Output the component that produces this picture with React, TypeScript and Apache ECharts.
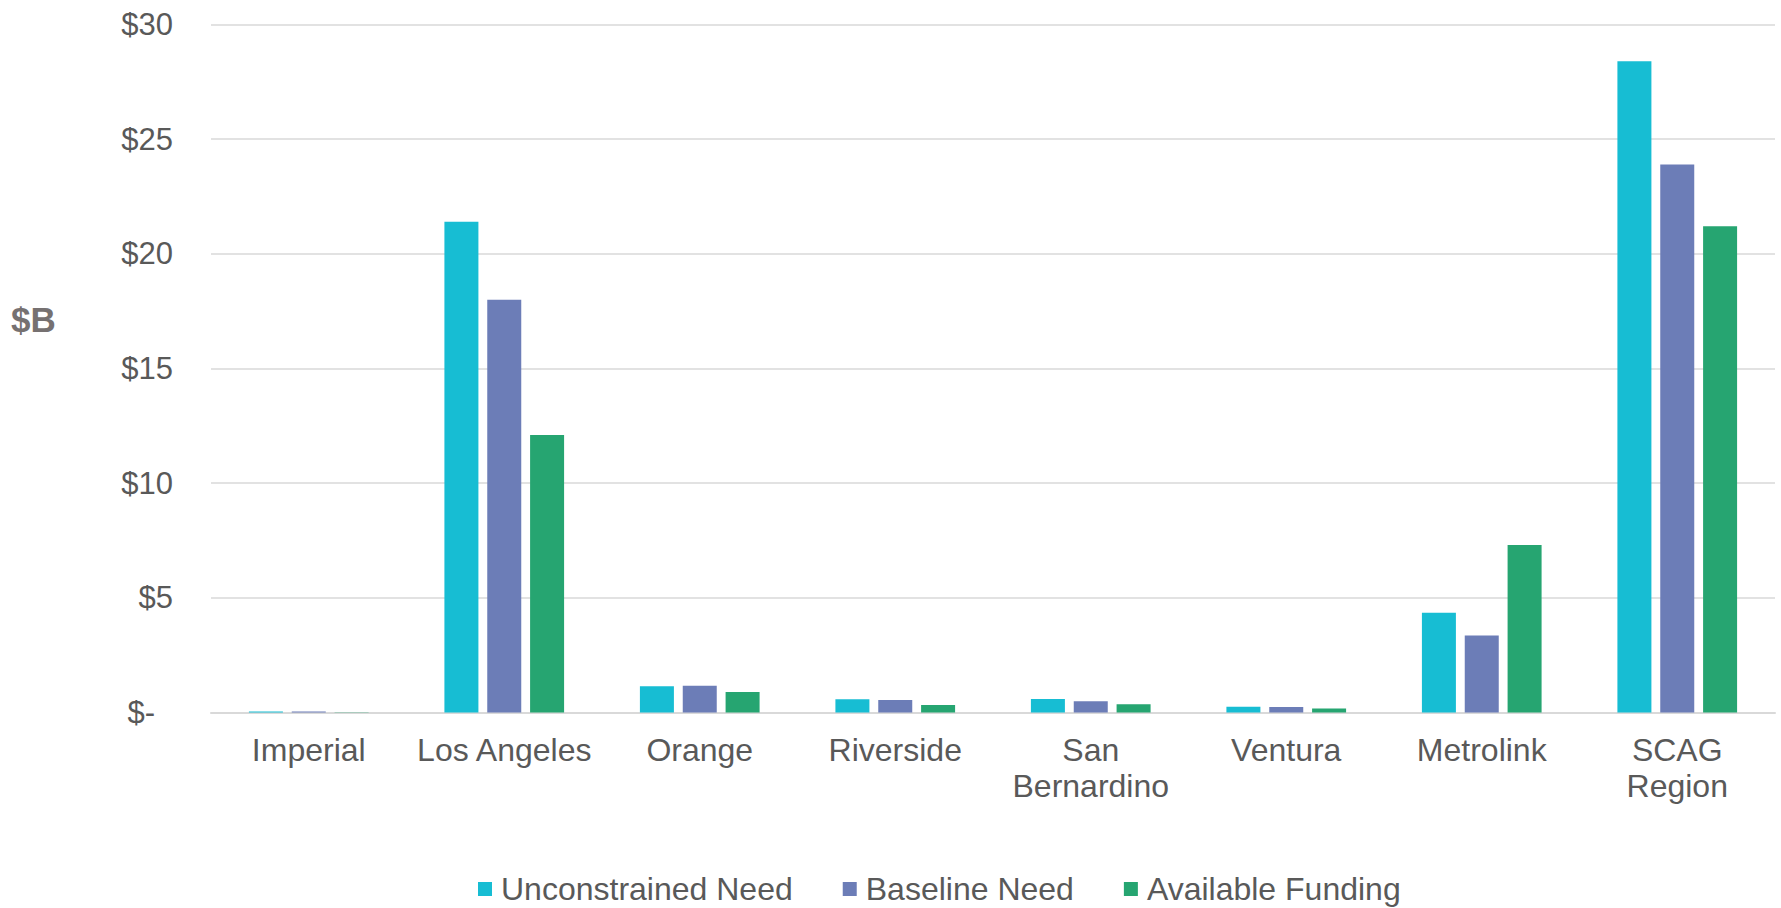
import React, { useEffect, useRef } from "react";
import * as echarts from "echarts";

// Transit O&M need vs. funding by county ($ billions)
const categories = [
  "Imperial",
  "Los Angeles",
  "Orange",
  "Riverside",
  "San\nBernardino",
  "Ventura",
  "Metrolink",
  "SCAG\nRegion",
];
const unconstrainedNeed = [0.04, 21.4, 1.15, 0.58, 0.59, 0.25, 4.35, 28.4];
const baselineNeed = [0.04, 18.0, 1.17, 0.55, 0.49, 0.24, 3.36, 23.9];
const availableFunding = [0.01, 12.1, 0.89, 0.33, 0.36, 0.17, 7.3, 21.2];

const seriesNames = ["Unconstrained Need", "Baseline Need", "Available Funding"];
const seriesColors = ["#17BDD3", "#6C7DB7", "#26A571"];

const FONT = "'Liberation Sans', Arial, Helvetica, sans-serif";
const TEXT = "#595959";
const GRID = "#D9D9D9";

export default function App() {
  const ref = useRef<HTMLDivElement>(null);

  useEffect(() => {
    if (!ref.current) return;
    const chart = echarts.init(ref.current, null, { renderer: "svg" });
    const values = [unconstrainedNeed, baselineNeed, availableFunding];

    chart.setOption({
      animation: false,
      backgroundColor: "#FFFFFF",
      textStyle: { fontFamily: FONT },
      grid: { left: 211, right: 6, top: 24.5, bottom: 195.5, containLabel: false },
      graphic: [
        {
          type: "text",
          left: 11,
          top: 302,
          style: {
            text: "$B",
            fontFamily: FONT,
            fontSize: 35,
            fontWeight: "bold",
            fill: "#767171",
          },
        },
      ],
      legend: {
        data: seriesNames,
        left: 478,
        top: 873,
        padding: 0,
        itemWidth: 14,
        itemHeight: 14,
        itemGap: 50,
        icon: "rect",
        textStyle: {
          fontFamily: FONT,
          fontSize: 32,
          color: TEXT,
          padding: [0, 0, 0, 4],
        },
      },
      xAxis: {
        type: "category",
        data: categories,
        axisLine: { show: true, lineStyle: { color: GRID, width: 2 } },
        axisTick: { show: false },
        axisLabel: {
          interval: 0,
          margin: 19,
          fontFamily: FONT,
          fontSize: 32,
          lineHeight: 36,
          color: TEXT,
          align: "center",
        },
        splitLine: { show: false },
      },
      yAxis: {
        type: "value",
        min: 0,
        max: 30,
        interval: 5,
        axisLine: { show: false },
        axisTick: { show: false },
        splitLine: { show: true, lineStyle: { color: GRID, width: 1.5 } },
        axisLabel: {
          margin: 38,
          fontFamily: FONT,
          fontSize: 31,
          color: TEXT,
          formatter: (v: number) => (v === 0 ? "{z|$-}" : "$" + v),
          rich: {
            z: {
              fontFamily: FONT,
              fontSize: 31,
              color: TEXT,
              padding: [0, 18, 0, 0],
            },
          },
        },
      },
      series: seriesNames.map((name, i) => ({
        name,
        type: "bar",
        data: values[i],
        barWidth: 34,
        barGap: "26%",
        itemStyle: { color: seriesColors[i] },
      })),
    });

    return () => chart.dispose();
  }, []);

  return (
    <div
      ref={ref}
      style={{ position: "fixed", left: 0, top: 0, width: 1781, height: 908 }}
    />
  );
}
